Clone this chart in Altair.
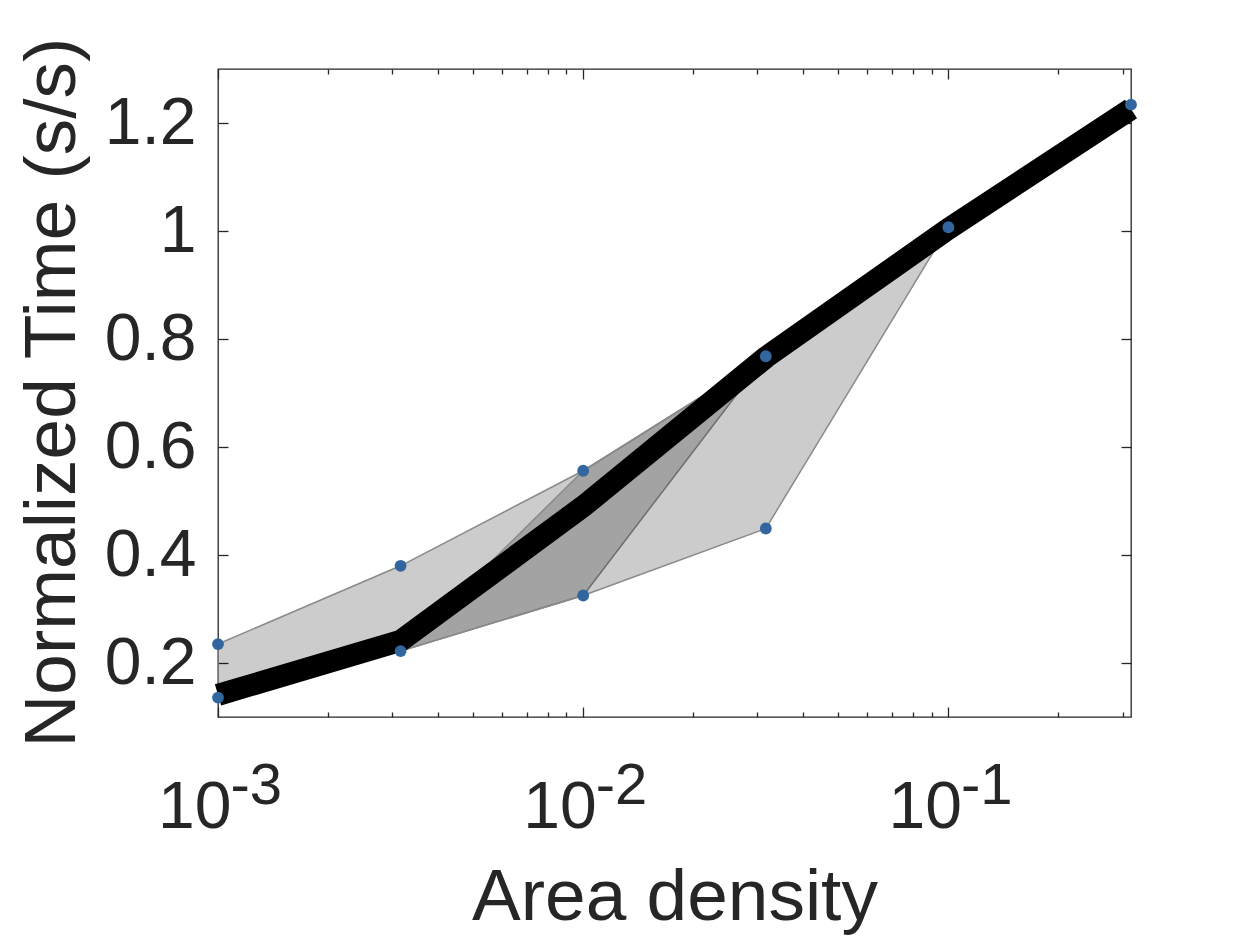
import altair as alt
import pandas as pd

# ---- data ----
x_vals = [0.001, 0.0031623, 0.01, 0.031623, 0.1, 0.31623]
upper_pts = [0.235, 0.380, 0.556, 0.768, 1.007, 1.234]
lower_pts = [0.136, 0.222, 0.325, 0.449]
mean_line = [0.141, 0.241, 0.490, 0.766, 1.004, 1.226]

x_major = [0.001, 0.01, 0.1]
x_minor = [0.002, 0.003, 0.004, 0.005, 0.006, 0.007, 0.008, 0.009,
           0.02, 0.03, 0.04, 0.05, 0.06, 0.07, 0.08, 0.09, 0.2, 0.3]
y_ticks = [0.2, 0.4, 0.6, 0.8, 1.0, 1.2]

# ---- shaded regions built from the points ----
bandA = pd.DataFrame({
    "x": x_vals[0:4],
    "hi": upper_pts[0:4],
    "lo": lower_pts[0:3] + [upper_pts[3]],
})
bandB = pd.DataFrame({
    "x": x_vals[1:5],
    "hi": [lower_pts[1]] + upper_pts[2:5],
    "lo": lower_pts[1:4] + [upper_pts[4]],
})
line_df = pd.DataFrame({"x": x_vals, "m": mean_line})
pts_df = pd.DataFrame({
    "x": x_vals + x_vals[:len(lower_pts)],
    "v": upper_pts + lower_pts,
})

W, H = 913, 648
FONT = "Liberation Sans"
TXT = "#262626"
LABEL_FS = 66
TITLE_FS = 73

xs = alt.Scale(type="log", domain=[0.001, 0.316228], nice=False)
ys = alt.Scale(domain=[0.1, 1.3], nice=False, zero=False)

common = dict(grid=False, domain=False)

ax_x_main = alt.Axis(
    orient="bottom", values=x_major, labelExpr="'10'", labelAlign="right",
    labelOffset=13, labelBaseline="alphabetic", labelPadding=110,
    labelFontSize=LABEL_FS, labelFont=FONT, labelColor=TXT, labelFlush=False,
    labelOverlap=False, ticks=False, tickSize=0,
    title="Area density", titleFontSize=TITLE_FS, titleFont=FONT,
    titleFontWeight="normal", titleColor=TXT, titleX=W / 2, titleY=202,
    titleBaseline="alphabetic", titleAlign="center", **common)
ax_x_exp = alt.Axis(
    orient="bottom", values=x_major,
    labelExpr="'' + round(log(datum.value) / LN10)", labelAlign="left",
    labelOffset=12, labelBaseline="alphabetic", labelPadding=86,
    labelFontSize=58, labelFont=FONT, labelColor=TXT, labelFlush=False,
    labelOverlap=False, ticks=False, tickSize=0, title="", **common)


def tick_axis(orient, offset, values, size):
    return alt.Axis(orient=orient, offset=offset, values=values, labels=False,
                    ticks=True, tickSize=size, tickWidth=1.3, tickColor=TXT,
                    title="", **common)


ax_x_bot_major = tick_axis("top", -H, x_major, 10)
ax_x_bot_minor = tick_axis("top", -H, x_minor, 5)
ax_x_top_major = tick_axis("bottom", -H, x_major, 10)
ax_x_top_minor = tick_axis("bottom", -H, x_minor, 5)

ax_y_main = alt.Axis(
    orient="left", values=y_ticks,
    labelExpr="datum.value == 1 ? '1' : format(datum.value, '.1f')",
    labelFontSize=LABEL_FS, labelFont=FONT, labelColor=TXT, labelPadding=22,
    labelBaseline="middle", labelFlush=False, labelOverlap=False,
    ticks=False, tickSize=0,
    title="Normalized Time (s/s)", titleFontSize=TITLE_FS, titleFont=FONT,
    titleFontWeight="normal", titleColor=TXT, titleAngle=270,
    titleX=-144, titleY=H / 2 - 1, titleBaseline="alphabetic",
    titleAlign="center", **common)
ax_y_left_ticks = tick_axis("right", -W, y_ticks, 10)
ax_y_right_ticks = tick_axis("left", -W, y_ticks, 10)

areaA = alt.Chart(bandA).mark_area(
    fill="black", fillOpacity=0.2, stroke="#8a8a8a", strokeWidth=1.5
).encode(
    x=alt.X("x:Q", scale=xs, axis=ax_x_main),
    y=alt.Y("lo:Q", scale=ys, axis=ax_y_main),
    y2="hi:Q",
)
areaB = alt.Chart(bandB).mark_area(
    fill="black", fillOpacity=0.2, stroke="#8a8a8a", strokeWidth=1.5
).encode(
    x=alt.X("x:Q", scale=xs, axis=ax_x_exp),
    y=alt.Y("lo:Q", scale=ys, axis=ax_y_left_ticks),
    y2="hi:Q",
)
line = alt.Chart(line_df).mark_line(
    color="black", strokeWidth=22, strokeCap="butt"
).encode(
    x=alt.X("x:Q", scale=xs, axis=ax_x_bot_major),
    y=alt.Y("m:Q", scale=ys, axis=ax_y_right_ticks),
)
points = alt.Chart(pts_df).mark_circle(
    size=140, color="#31679e", opacity=1
).encode(
    x=alt.X("x:Q", scale=xs, axis=ax_x_bot_minor),
    y=alt.Y("v:Q", scale=ys, axis=None),
)
ghost1 = alt.Chart(pts_df).mark_circle(opacity=0).encode(
    x=alt.X("x:Q", scale=xs, axis=ax_x_top_major),
    y=alt.Y("v:Q", scale=ys, axis=None),
)
ghost2 = alt.Chart(pts_df).mark_circle(opacity=0).encode(
    x=alt.X("x:Q", scale=xs, axis=ax_x_top_minor),
    y=alt.Y("v:Q", scale=ys, axis=None),
)

chart = alt.layer(areaA, areaB, line, points, ghost1, ghost2).resolve_axis(
    x="independent", y="independent"
).properties(
    width=W, height=H,
    autosize=alt.AutoSizeParams(type="none"),
    padding={"left": 210, "top": 61, "right": 110, "bottom": 221},
    background="white",
).configure_view(stroke=TXT, strokeWidth=1.3)

chart.save("out.html", embed_options={"renderer": "svg", "actions": False})
